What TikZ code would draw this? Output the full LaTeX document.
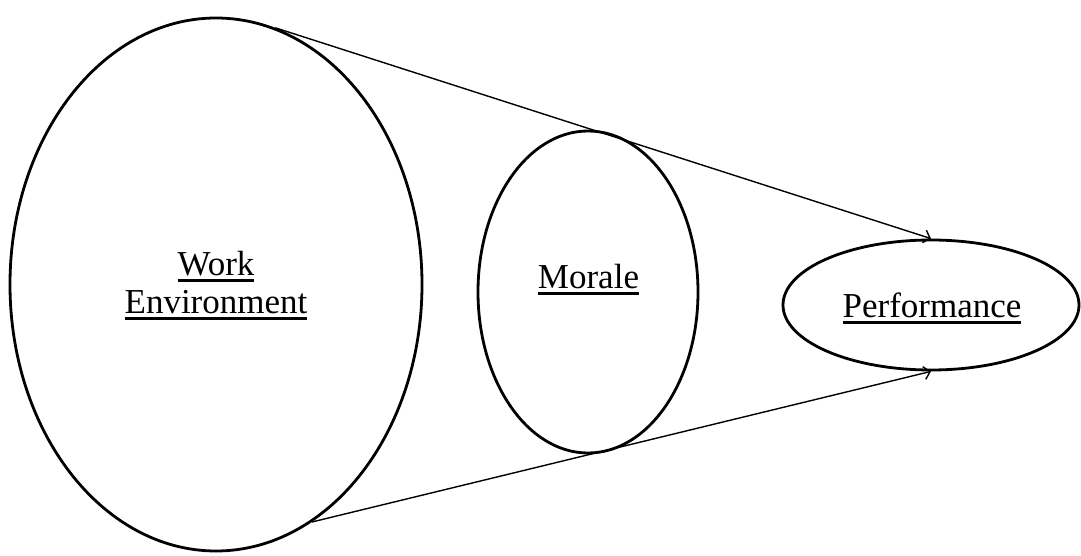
\documentclass[tikz,border=0pt]{standalone}
\usepackage{fontspec}
\setmainfont{Liberation Serif}
\usetikzlibrary{shapes.geometric,arrows.meta}
% underline with a fixed drop and weight
\newcommand\ulx[1]{\setbox0\hbox{#1}\rlap{\rule[-6.5pt]{\wd0}{2.2pt}}\box0}
\begin{document}
\begin{tikzpicture}[x=1pt,y=-1pt,
  oval/.style={draw,ellipse,line width=2.8pt,inner sep=0pt},
  lbl/.style={font=\fontsize{35}{38}\selectfont,anchor=base,inner sep=0pt,align=center},
  link/.style={line width=1.4pt,-{Straight Barb[length=6pt,width=13pt]}}]
  \useasboundingbox (0,0) rectangle (1081,556);
  % the three ovals
  \node[oval,minimum width=412pt,minimum height=533pt] (we) at (216,284.5) {};
  \node[oval,minimum width=220pt,minimum height=322pt] (mo) at (588,292) {};
  \node[oval,minimum width=296pt,minimum height=130pt] (pf) at (931,305) {};
  % their labels
  \node[lbl] (weT) at (216,313) {\ulx{Work}\\\ulx{Environment}};
  \node[lbl] (moT) at (588.5,288) {\ulx{Morale}};
  \node[lbl] (pfT) at (932,317) {\ulx{Performance}};
  % connectors
  \draw[link] (we.77.4) -- (pf.north);
  \draw[link] (we.-68.5) -- (pf.south);
\end{tikzpicture}
\end{document}
